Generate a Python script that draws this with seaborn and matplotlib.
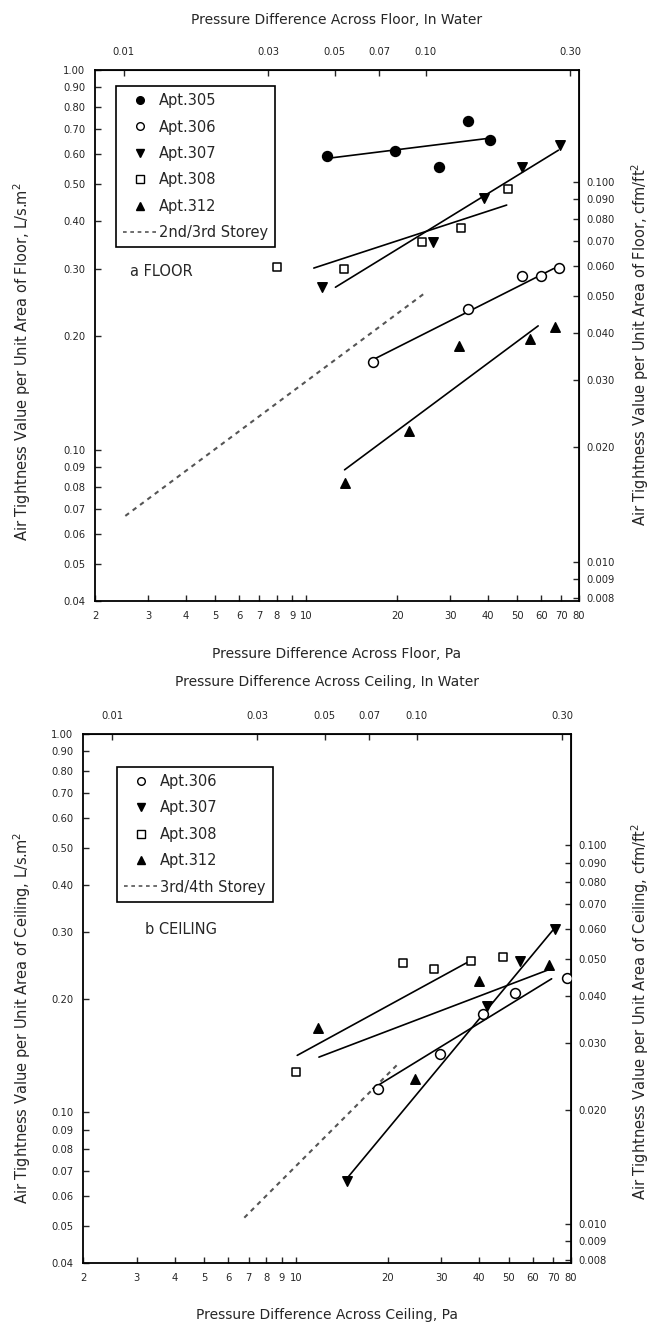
import numpy as np
import pandas as pd
import seaborn as sns
import matplotlib.pyplot as plt
from matplotlib.lines import Line2D
from matplotlib.ticker import NullLocator

sns.set_style("ticks")
plt.rcParams['font.family'] = ['DejaVu Sans']

# ---- data (Pa, L/s.m2) ----
# a FLOOR
floor_305_pa = [11.7, 19.7, 27.6, 34.2, 40.6]
floor_305_val = [0.593, 0.612, 0.554, 0.733, 0.656]
floor_306_pa = [16.7, 34.2, 52.0, 60.0, 68.8]
floor_306_val = [0.170, 0.235, 0.286, 0.286, 0.302]
floor_307_pa = [11.3, 26.2, 38.8, 51.8, 69.3]
floor_307_val = [0.268, 0.352, 0.459, 0.554, 0.634]
floor_308_pa = [8.03, 13.3, 24.1, 32.6, 46.4]
floor_308_val = [0.303, 0.300, 0.352, 0.383, 0.486]
floor_312_pa = [13.4, 21.9, 32.0, 55.0, 66.8]
floor_312_val = [0.082, 0.112, 0.188, 0.196, 0.211]

# fitted lines, end points
floor_fit_305 = ([11.7, 39.6], [0.585, 0.660])
floor_fit_306 = ([16.7, 65.9], [0.173, 0.300])
floor_fit_307 = ([12.5, 68.4], [0.268, 0.615])
floor_fit_308 = ([10.6, 46.1], [0.301, 0.441])
floor_fit_312 = ([13.4, 58.6], [0.0886, 0.212])
floor_storey = ([2.52, 24.6], [0.067, 0.258])

# b CEILING
ceil_306_pa = [18.6, 29.8, 41.2, 52.4, 77.4]
ceil_306_val = [0.115, 0.143, 0.182, 0.207, 0.227]
ceil_307_pa = [14.7, 42.4, 54.4, 70.9]
ceil_307_val = [0.0658, 0.191, 0.251, 0.305]
ceil_308_pa = [10.0, 22.5, 28.4, 37.6, 47.8]
ceil_308_val = [0.128, 0.248, 0.239, 0.251, 0.257]
ceil_312_pa = [11.8, 24.6, 39.9, 67.9]
ceil_312_val = [0.167, 0.1225, 0.223, 0.2455]

ceil_fit_306 = ([17.9, 69.1], [0.1157, 0.2255])
ceil_fit_307 = ([14.7, 70.9], [0.0669, 0.308])
ceil_fit_308 = ([10.1, 37.1], [0.1415, 0.2508])
ceil_fit_312 = ([11.9, 68.6], [0.140, 0.2394])
ceil_storey = ([6.77, 21.9], [0.0527, 0.1356])

x_ticks = [2, 3, 4, 5, 6, 7, 8, 9, 10, 20, 30, 40, 50, 60, 70, 80]
x_labels = ['2', '3', '4', '5', '6', '7', '8', '9', '10', '20', '30', '40', '50', '60', '70', '80']
top_ticks = [0.01, 0.03, 0.05, 0.07, 0.10, 0.30]
top_labels = ['0.01', '0.03', '0.05', '0.07', '0.10', '0.30']
y_ticks = [0.04, 0.05, 0.06, 0.07, 0.08, 0.09, 0.10, 0.20, 0.30, 0.40, 0.50, 0.60, 0.70, 0.80, 0.90, 1.00]
y_labels = ['0.04', '0.05', '0.06', '0.07', '0.08', '0.09', '0.10', '0.20', '0.30', '0.40',
            '0.50', '0.60', '0.70', '0.80', '0.90', '1.00']
r_ticks = [0.008, 0.009, 0.010, 0.020, 0.030, 0.040, 0.050, 0.060, 0.070, 0.080, 0.090, 0.100]
r_labels = ['0.008', '0.009', '0.010', '0.020', '0.030', '0.040', '0.050', '0.060',
            '0.070', '0.080', '0.090', '0.100']

PA_PER_INWG = 249.0
LSM_PER_CFM = 5.08

styles = {
    '305': dict(marker='o', s=50, facecolor='black', edgecolor='black'),
    '306': dict(marker='o', s=50, facecolor='white', edgecolor='black'),
    '307': dict(marker='v', s=46, facecolor='black', edgecolor='black'),
    '308': dict(marker='s', s=34, facecolor='white', edgecolor='black'),
    '312': dict(marker='^', s=46, facecolor='black', edgecolor='black'),
}
leg_style = {
    '305': ('o', 'black'), '306': ('o', 'white'), '307': ('v', 'black'),
    '308': ('s', 'white'), '312': ('^', 'black'),
}
dash = (0, (2.2, 2.2))
W, H = 653, 1325


def setup_axes(ax):
    ax.set_xscale('log')
    ax.set_yscale('log')
    ax.set_xlim(2, 80)
    ax.set_ylim(0.04, 1.0)
    ax.set_xticks(x_ticks, x_labels)
    ax.set_yticks(y_ticks, y_labels)
    ax.xaxis.set_minor_locator(NullLocator())
    ax.yaxis.set_minor_locator(NullLocator())
    ax.tick_params(direction='in', length=4, width=1, labelsize=7.2, pad=7)
    for sp in ax.spines.values():
        sp.set_linewidth(1.3)
        sp.set_color('black')
    ax.set_xlabel('')
    ax.set_ylabel('')

    top = ax.secondary_xaxis('top', functions=(lambda p: p / PA_PER_INWG, lambda w: w * PA_PER_INWG))
    top.set_xticks(top_ticks, top_labels)
    top.xaxis.set_minor_locator(NullLocator())
    top.tick_params(direction='in', length=4, width=1, labelsize=7.2, pad=9)

    right = ax.secondary_yaxis('right', functions=(lambda v: v / LSM_PER_CFM, lambda c: c * LSM_PER_CFM))
    right.set_yticks(r_ticks, r_labels)
    right.yaxis.set_minor_locator(NullLocator())
    right.tick_params(direction='in', length=4, width=1, labelsize=7.2, pad=5)


def draw_panel(ax, series, fits, storey, storey_label, legend_pos, tag, tag_pos):
    for apt, (pa, val) in series.items():
        df = pd.DataFrame({'pa': pa, 'val': val})
        sns.scatterplot(data=df, x='pa', y='val', ax=ax, linewidth=1.1, zorder=3, **styles[apt])
    for xs, ys in fits:
        sns.lineplot(x=xs, y=ys, ax=ax, color='black', lw=1.2, sort=False, estimator=None)
    sns.lineplot(x=storey[0], y=storey[1], ax=ax, color='#555555', lw=1.5,
                 linestyle=dash, sort=False, estimator=None)
    setup_axes(ax)

    handles = []
    for apt in series:
        m, fc = leg_style[apt]
        handles.append(Line2D([], [], marker=m, color='black', markerfacecolor=fc,
                              markeredgecolor='black', markersize=5.5, linestyle='none',
                              label='Apt.' + apt))
    handles.append(Line2D([], [], color='#555555', lw=1.2, linestyle=dash, label=storey_label))
    leg = ax.legend(handles=handles, loc='upper left', bbox_to_anchor=legend_pos,
                    borderaxespad=0, fontsize=10.5, handlelength=2.3, handletextpad=0.15,
                    labelspacing=0.78, borderpad=0.5, fancybox=False, framealpha=1,
                    edgecolor='black')
    leg.get_frame().set_linewidth(1.2)
    ax.text(tag_pos[0], tag_pos[1], tag, transform=ax.transAxes, fontsize=10.5,
            va='center', ha='left')


fig = plt.figure(figsize=(W / 100, H / 100), dpi=100)

# panel a geometry (pixels): left 95, right 579, top 70, bottom 601
ax_a = fig.add_axes([95 / W, 1 - 601 / H, 484 / W, 531 / H])
draw_panel(ax_a,
           {'305': (floor_305_pa, floor_305_val), '306': (floor_306_pa, floor_306_val),
            '307': (floor_307_pa, floor_307_val), '308': (floor_308_pa, floor_308_val),
            '312': (floor_312_pa, floor_312_val)},
           [floor_fit_305, floor_fit_306, floor_fit_307, floor_fit_308, floor_fit_312],
           floor_storey, '2nd/3rd Storey', (0.043, 0.97), 'a FLOOR', (0.072, 0.621))

# panel b geometry: left 83, right 571, top 734, bottom 1263
ax_b = fig.add_axes([83 / W, 1 - 1263 / H, 488 / W, 529 / H])
draw_panel(ax_b,
           {'306': (ceil_306_pa, ceil_306_val), '307': (ceil_307_pa, ceil_307_val),
            '308': (ceil_308_pa, ceil_308_val), '312': (ceil_312_pa, ceil_312_val)},
           [ceil_fit_306, ceil_fit_307, ceil_fit_308, ceil_fit_312],
           ceil_storey, '3rd/4th Storey', (0.07, 0.938), 'b CEILING', (0.127, 0.631))

fs = 10
fig.text(337 / W, 1 - 20 / H, 'Pressure Difference Across Floor, In Water', ha='center', va='center', fontsize=fs)
fig.text(337 / W, 1 - 654 / H, 'Pressure Difference Across Floor, Pa', ha='center', va='center', fontsize=fs)
fig.text(327 / W, 1 - 682 / H, 'Pressure Difference Across Ceiling, In Water', ha='center', va='center', fontsize=fs)
fig.text(327 / W, 1 - 1315 / H, 'Pressure Difference Across Ceiling, Pa', ha='center', va='center', fontsize=fs)

fig.text(22 / W, 1 - 362 / H, 'Air Tightness Value per Unit Area of Floor, L/s.m$^2$',
         rotation=90, ha='center', va='center', fontsize=10.5)
fig.text(22 / W, 1 - 1018 / H, 'Air Tightness Value per Unit Area of Ceiling, L/s.m$^2$',
         rotation=90, ha='center', va='center', fontsize=10.5)
fig.text(640 / W, 1 - 344 / H, 'Air Tightness Value per Unit Area of Floor, cfm/ft$^2$',
         rotation=90, ha='center', va='center', fontsize=10.5)
fig.text(640 / W, 1 - 1012 / H, 'Air Tightness Value per Unit Area of Ceiling, cfm/ft$^2$',
         rotation=90, ha='center', va='center', fontsize=10.5)

fig.savefig('out.png', dpi=100, facecolor='white')
